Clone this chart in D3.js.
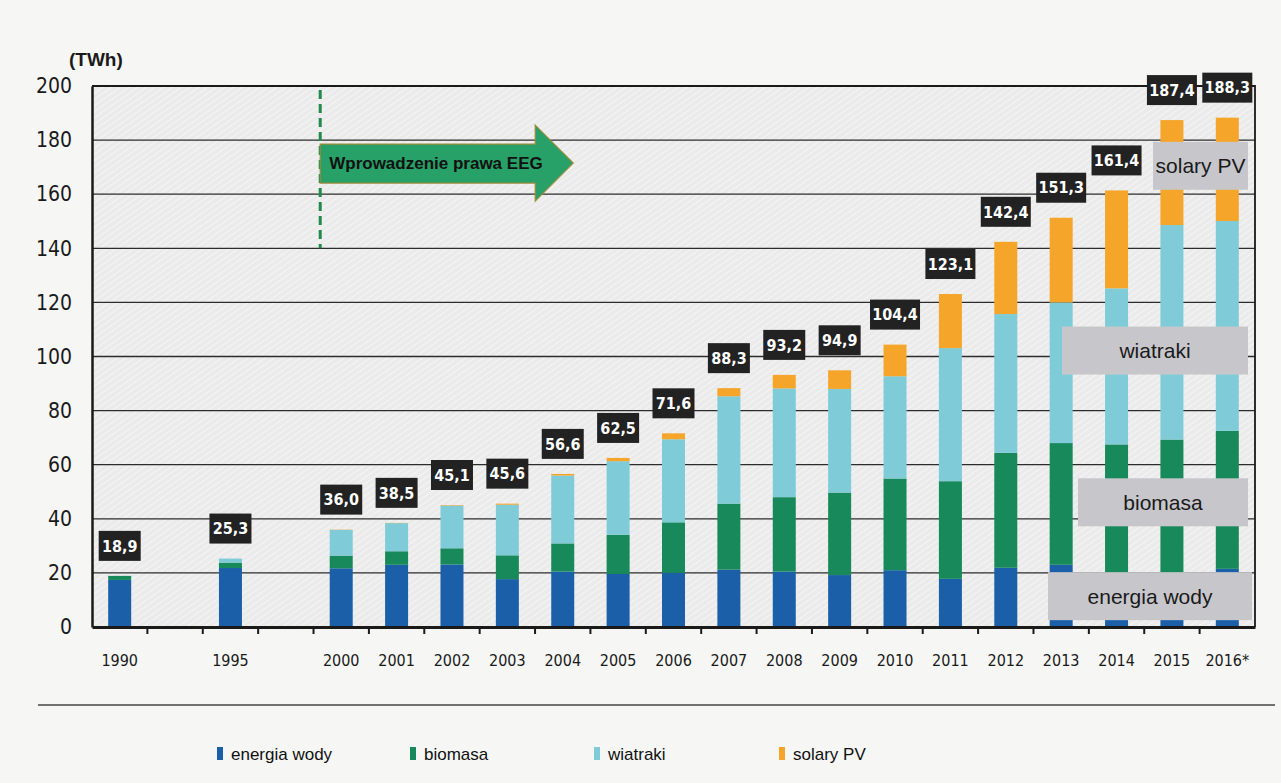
<!DOCTYPE html>
<html>
<head>
  <meta charset="utf-8">
  <title>Odnawialne zrodla energii</title>
  <script src="https://d3js.org/d3.v7.min.js"></script>
  <style>
    body { margin: 0; background: #f6f6f5; }
    .cond { font-family: "DejaVu Sans Condensed", "DejaVu Sans", sans-serif; font-stretch: condensed; }
    .arial { font-family: "Liberation Sans", Arial, sans-serif; }
  </style>
</head>
<body>
<svg id="chart" width="1281" height="783"></svg>
<script>

// data (TWh)
var years   = ["1990","1995","2000","2001","2002","2003","2004","2005","2006","2007","2008","2009","2010","2011","2012","2013","2014","2015","2016*"];
var hydro   = [17.4, 21.8, 21.7, 23.0, 23.1, 17.7, 20.5, 19.6, 20.0, 21.2, 20.5, 19.2, 21.0, 17.8, 21.9, 23.0, 19.0, 18.5, 21.5];
var biomass = [1.5, 2.0, 4.7, 5.0, 6.0, 8.8, 10.4, 14.5, 18.7, 24.4, 27.5, 30.5, 33.9, 36.1, 42.5, 45.0, 48.5, 50.8, 51.0];
var wind    = [0, 1.5, 9.5, 10.4, 15.8, 18.7, 25.1, 27.2, 30.7, 39.7, 40.2, 38.3, 37.8, 49.2, 51.3, 52.0, 57.7, 79.3, 77.6];
var solar   = [0, 0, 0.1, 0.1, 0.2, 0.4, 0.6, 1.2, 2.2, 3.0, 5.0, 6.9, 11.7, 20.0, 26.7, 31.3, 36.2, 38.8, 38.2];
var totals  = ["18,9","25,3","36,0","38,5","45,1","45,6","56,6","62,5","71,6","88,3","93,2","94,9","104,4","123,1","142,4","151,3","161,4","187,4","188,3"];
var seriesNames = ["energia wody","biomasa","wiatraki","solary PV"];
var colors = ["#1b5fa8","#17895a","#80cbd8","#f5a52a"];
var yTicks = [0,20,40,60,80,100,120,140,160,180,200];

// x slots: empty slots between 1990, 1995 and 2000
var slots = [];
years.forEach(function(yr, i) {
  slots.push(yr);
  if (i < 2) { slots.push("gap" + i); }
});

var pLeft = 92, pRight = 1255, pTop = 86, pBottom = 627;

var svg = d3.select("#chart");

var defs = svg.append("defs");
var pat = defs.append("pattern")
    .attr("id", "hatch")
    .attr("patternUnits", "userSpaceOnUse")
    .attr("width", 5).attr("height", 5)
    .attr("patternTransform", "rotate(-35)");
pat.append("rect").attr("width", 5).attr("height", 5).attr("fill", "#ebebeb");
pat.append("line").attr("x1", 0).attr("y1", 0).attr("x2", 5).attr("y2", 0)
    .attr("stroke", "#f8f8f8").attr("stroke-width", 1.6);

var x = d3.scaleBand().domain(slots).range([pLeft, pRight]).paddingInner(0);
var y = d3.scaleLinear().domain([0, 200]).range([pBottom, pTop]);
var barW = 23;

// plot background
svg.append("rect")
    .attr("x", pLeft).attr("y", pTop)
    .attr("width", pRight - pLeft).attr("height", pBottom - pTop)
    .attr("fill", "url(#hatch)");

// gridlines
svg.append("g").selectAll("line")
  .data(yTicks.slice(1))
  .enter().append("line")
    .attr("x1", pLeft).attr("x2", pRight)
    .attr("y1", function(d) { return y(d); })
    .attr("y2", function(d) { return y(d); })
    .attr("stroke", "#2c2c2c")
    .attr("stroke-width", 1.3);

// stacked bars
var table = years.map(function(yr, i) {
  return { year: yr, hydro: hydro[i], biomass: biomass[i], wind: wind[i], solar: solar[i], total: totals[i] };
});
var keys = ["hydro","biomass","wind","solar"];
var stacked = d3.stack().keys(keys)(table);

svg.append("g").selectAll("g")
  .data(stacked)
  .enter().append("g")
    .attr("fill", function(d, i) { return colors[i]; })
  .selectAll("rect")
  .data(function(d) { return d; })
  .enter().append("rect")
    .attr("x", function(d) { return x(d.data.year) + x.bandwidth() / 2 - barW / 2; })
    .attr("width", barW)
    .attr("y", function(d) { return y(d[1]); })
    .attr("height", function(d) { return Math.max(0, y(d[0]) - y(d[1])); });

// axes
var yAxis = svg.append("g")
    .attr("class", "cond")
    .attr("transform", "translate(" + pLeft + ",0)")
    .call(d3.axisLeft(y).tickValues(yTicks).tickSize(0).tickPadding(20));
yAxis.select(".domain").attr("stroke", "#1a1a1a").attr("stroke-width", 2.5);
yAxis.selectAll("text").attr("font-size", 21).attr("fill", "#1a1a1a").attr("font-family", null);

var xAxis = svg.append("g")
    .attr("class", "cond")
    .attr("transform", "translate(0," + pBottom + ")")
    .call(d3.axisBottom(x).tickSize(0).tickPadding(28).tickFormat(function(d) { return d.indexOf("gap") === 0 ? "" : d; }));
xAxis.select(".domain").attr("stroke", "#1a1a1a").attr("stroke-width", 3);
xAxis.selectAll("text").attr("font-size", 16).attr("fill", "#1a1a1a").attr("font-family", null);

// tick marks at slot boundaries
xAxis.append("g").selectAll("line")
  .data(slots.slice(1))
  .enter().append("line")
    .attr("x1", function(d) { return x(d); })
    .attr("x2", function(d) { return x(d); })
    .attr("y1", 0).attr("y2", 7)
    .attr("stroke", "#1a1a1a").attr("stroke-width", 2);

// frame top and right
svg.append("path")
    .attr("d", "M" + pLeft + "," + pTop + "H" + pRight + "V" + pBottom)
    .attr("fill", "none").attr("stroke", "#1a1a1a").attr("stroke-width", 1.8);

svg.append("text")
    .attr("class", "arial")
    .attr("x", 69).attr("y", 66)
    .attr("font-size", 19).attr("font-weight", "bold")
    .attr("fill", "#1a1a1a")
    .text("(TWh)");

// total labels
var lab = svg.append("g").selectAll("g")
  .data(table)
  .enter().append("g")
    .attr("transform", function(d) {
      var t = d.hydro + d.biomass + d.wind + d.solar;
      return "translate(" + (x(d.year) + x.bandwidth() / 2) + "," + (y(t) - 30) + ")";
    });
lab.append("rect")
    .attr("x", function(d) { return d.total.length > 4 ? -25 : -21; })
    .attr("width", function(d) { return d.total.length > 4 ? 50 : 42; })
    .attr("y", -15).attr("height", 30)
    .attr("fill", "#222222");
lab.append("text")
    .attr("class", "cond")
    .attr("text-anchor", "middle")
    .attr("dy", "0.36em")
    .attr("font-size", 16).attr("font-weight", "bold")
    .attr("fill", "#ffffff")
    .text(function(d) { return d.total; });

// EEG arrow
var ax = x("2000") + x.bandwidth() / 2 - 21;
svg.append("line")
    .attr("x1", ax).attr("x2", ax)
    .attr("y1", y(198.5)).attr("y2", y(140))
    .attr("stroke", "#1f8a4c").attr("stroke-width", 3)
    .attr("stroke-dasharray", "9,5");
var ay = y(171.5);
svg.append("path")
    .attr("d", "M" + ax + "," + (ay - 19) + "H" + (ax + 215) + "V" + (ay - 38) +
               "L" + (ax + 253) + "," + ay + "L" + (ax + 215) + "," + (ay + 38) +
               "V" + (ay + 20) + "H" + ax + "Z")
    .attr("fill", "#27a168").attr("stroke", "#9a8a3a").attr("stroke-width", 1.2);
svg.append("text")
    .attr("class", "arial")
    .attr("x", ax + 9).attr("y", ay + 6)
    .attr("font-size", 17).attr("font-weight", "bold")
    .attr("fill", "#111")
    .text("Wprowadzenie prawa EEG");

// series name boxes inside the chart
var inner = [
  { name: "solary PV", x1: 1153, x2: 1248, v: 170.5 },
  { name: "wiatraki", x1: 1062, x2: 1248, v: 102.2 },
  { name: "biomasa", x1: 1078, x2: 1248, v: 46.1 },
  { name: "energia wody", x1: 1048, x2: 1252, v: 11.4 }
];
var ib = svg.append("g").selectAll("g")
  .data(inner)
  .enter().append("g");
ib.append("rect")
    .attr("x", function(d) { return d.x1; })
    .attr("width", function(d) { return d.x2 - d.x1; })
    .attr("y", function(d) { return y(d.v) - 24; })
    .attr("height", 48)
    .attr("fill", "#c7c7cb");
ib.append("text")
    .attr("class", "arial")
    .attr("x", function(d) { return (d.x1 + d.x2) / 2; })
    .attr("y", function(d) { return y(d.v); })
    .attr("dy", "0.35em")
    .attr("text-anchor", "middle")
    .attr("font-size", 21)
    .attr("fill", "#1a1a1a")
    .text(function(d) { return d.name; });

// separator line
svg.append("line")
    .attr("x1", 38).attr("x2", 1275)
    .attr("y1", 705).attr("y2", 705)
    .attr("stroke", "#444").attr("stroke-width", 1.5);

// legend
var legX = [217, 410, 594, 779];
var leg = svg.append("g").selectAll("g")
  .data(seriesNames)
  .enter().append("g")
    .attr("transform", function(d, i) { return "translate(" + legX[i] + ",754)"; });
leg.append("rect")
    .attr("x", 0).attr("y", -7)
    .attr("width", 6).attr("height", 13)
    .attr("fill", function(d, i) { return colors[i]; });
leg.append("text")
    .attr("class", "arial")
    .attr("x", 14)
    .attr("dy", "0.35em")
    .attr("font-size", 17)
    .attr("fill", "#111")
    .text(function(d) { return d; });

</script>
</body>
</html>
